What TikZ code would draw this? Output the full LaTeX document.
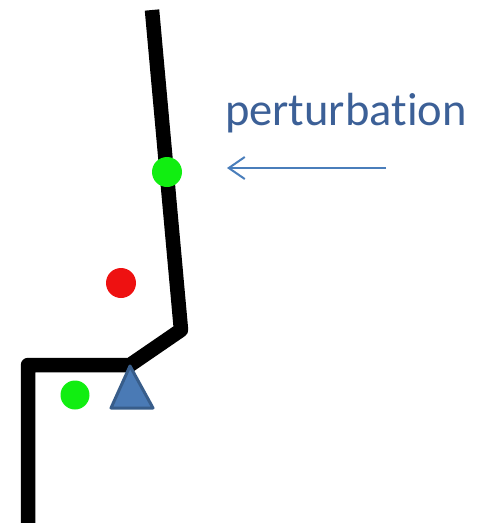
\documentclass[tikz,border=0pt]{standalone}
\usepackage{fontspec}
\setmainfont[Ligatures=NoCommon]{Carlito}
\usetikzlibrary{arrows.meta}
\definecolor{txtblue}{HTML}{3C6097}
\definecolor{arrblue}{HTML}{4A7EBB}
\definecolor{trifill}{HTML}{4A7AB5}
\definecolor{tristroke}{HTML}{385D8A}
\definecolor{dotgreen}{HTML}{11EE11}
\definecolor{dotred}{HTML}{EE1111}
\tikzset{
  limb/.style={line width=14.5pt, black, line join=round},
  dot/.style={circle, inner sep=0pt, minimum size=#1},
}
\begin{document}
\begin{tikzpicture}[x=1pt,y=-1pt]
\useasboundingbox (0,0) rectangle (481,523);
\clip (0,0) rectangle (481,523);
% body
\coordinate (head) at (152,10);
\coordinate (hip) at (181,330);
\coordinate (ankle) at (130,365);
\coordinate (heel) at (28,365);
\coordinate (floor) at (28,535);
\draw[limb] (head) -- (hip) -- (ankle) -- (heel) -- (floor);
% pivot triangle
\filldraw[fill=trifill, draw=tristroke, line width=3pt, line join=round]
  (130,366) -- (153,408) -- (111,408) -- cycle;
% dots
\node[dot=30pt, fill=dotgreen] (g1) at (167,172) {};
\node[dot=30pt, fill=dotred] (r1) at (121,283) {};
\node[dot=29pt, fill=dotgreen] (g2) at (75,395) {};
% perturbation
\node[anchor=base west, inner sep=0pt, text=txtblue, font=\fontsize{46.5}{50}\selectfont] (lab) at (225,125) {perturbation};
\coordinate (a1) at (386,168);
\coordinate (a2) at (227,168);
\draw[arrblue, line width=2pt, -{Straight Barb[length=16pt,width=22pt,line width=2pt]}] (a1) -- (a2);
\end{tikzpicture}
\end{document}
